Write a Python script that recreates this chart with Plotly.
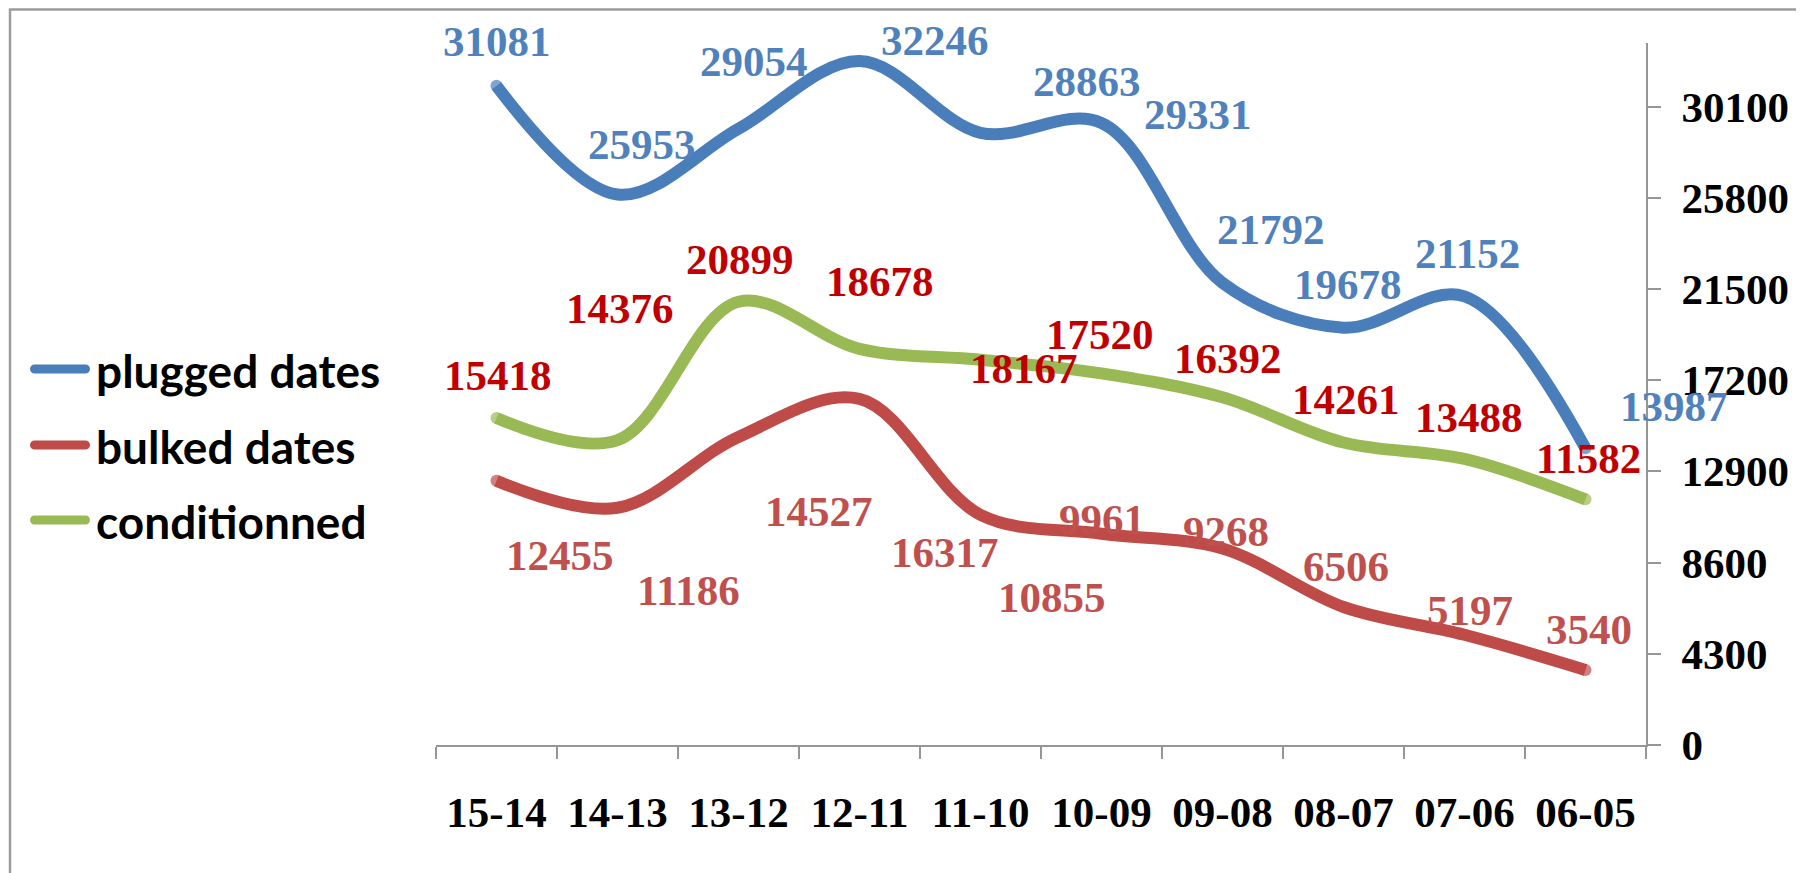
import plotly.graph_objects as go

# ---------------- data ----------------
categories = ["15-14", "14-13", "13-12", "12-11", "11-10",
              "10-09", "09-08", "08-07", "07-06", "06-05"]
plugged = [31081, 25953, 29054, 32246, 28863, 29331, 21792, 19678, 21152, 13987]
bulked = [12455, 11186, 14527, 16317, 10855, 9961, 9268, 6506, 5197, 3540]
conditionned = [15418, 14376, 20899, 18678, 18167, 17520, 16392, 14261, 13488, 11582]
y_ticks = [0, 4300, 8600, 12900, 17200, 21500, 25800, 30100]
series_names = ["plugged dates", "bulked dates", "conditionned"]

# ---------------- label placement (pixel offsets from each point: right, up) ----------------
plugged_lbl = [(0, 44), (24, 50), (15, 67), (75, 21), (106, 51), (96, 8), (48, 53), (4, 43), (3, 43), (88, 42)]
cond_lbl = [(1, 43), (2, 132), (1, 42), (20, 67), (43, -9), (-2, 39), (5, 39), (2, 43), (4, 41), (3, 41)]
bulk_lbl = [(63, -75), (71, -83), (80, -75), (85, -154), (71, -83), (0, 14), (3, 17), (2, 41), (5, 24), (3, 40)]

# ---------------- styles / layout (screen pixels) ----------------
BODY = 8                      # default page margin around the figure div
SCR_W, SCR_H = 1804, 873
PLOT_L, PLOT_R, PLOT_T, PLOT_B = 436, 1646, 43, 745
W, H = SCR_W - BODY, SCR_H - BODY
ML, MT = PLOT_L - BODY, PLOT_T - BODY
MR, MB = SCR_W - PLOT_R, SCR_H - PLOT_B
PW, PH = PLOT_R - PLOT_L, PLOT_B - PLOT_T
LINE_W = 12
line_colors = ["#4A7EBB", "#BE4B48", "#98B954"]
label_colors = ["#4F81BD", "#C0504D", "#C00000"]
serif = "Liberation Serif"
LBL_SIZE = 43
AX_COLOR = "#969696"


def px_to_paper(x, y):
    """screen pixel -> paper coordinates"""
    return (x - PLOT_L) / PW, (PLOT_B - y) / PH


fig = go.Figure()
series = [plugged, bulked, conditionned]
for name, vals, col in zip(series_names, series, line_colors):
    n = len(vals)
    fig.add_trace(go.Scatter(
        x=categories, y=vals, name=name, mode="lines+markers",
        line=dict(color=col, width=LINE_W, shape="spline", smoothing=1.0),
        marker=dict(color=col, size=[LINE_W if i in (0, n - 1) else 0 for i in range(n)],
                    line=dict(width=0)),
        showlegend=False, hoverinfo="skip",
    ))

annotations = []
for vals, offs, col in [(plugged, plugged_lbl, label_colors[0]),
                        (conditionned, cond_lbl, label_colors[2]),
                        (bulked, bulk_lbl, label_colors[1])]:
    for cat, v, (dx, dy) in zip(categories, vals, offs):
        annotations.append(dict(
            x=cat, y=v, xref="x", yref="y", text=str(v), showarrow=False,
            xshift=dx, yshift=dy, xanchor="center", yanchor="middle",
            font=dict(family=serif, size=LBL_SIZE, color=col, weight="bold"),
        ))

# custom legend
shapes = []
leg_rows = [369, 445, 520]
for name, col, yrow in zip(series_names, line_colors, leg_rows):
    ax, ay = px_to_paper(30, yrow)
    r = 4.5
    L = 60
    path = (f"M {r},{-r} L {L - r},{-r} C {L - r + 2.5},{-r} {L},{-2.5} {L},0 "
            f"C {L},2.5 {L - r + 2.5},{r} {L - r},{r} L {r},{r} "
            f"C 2,{r} 0,2.5 0,0 C 0,-2.5 2,{-r} {r},{-r} Z")
    shapes.append(dict(type="path", xref="paper", yref="paper", xsizemode="pixel",
                       ysizemode="pixel", xanchor=ax, yanchor=ay, path=path,
                       fillcolor=col, line=dict(width=0)))
    tx, ty = px_to_paper(94, yrow + 1)
    annotations.append(dict(
        x=tx, y=ty, xref="paper", yref="paper", text=name, showarrow=False,
        xanchor="left", yanchor="middle",
        font=dict(family="Lato", size=46, color="black", weight="bold"),
    ))

# chart area border (top & left visible)
bx0, by1 = px_to_paper(BODY + 2, 9.5)
bx1, by0 = px_to_paper(1830, 900)
shapes.append(dict(type="rect", xref="paper", yref="paper", x0=bx0, x1=bx1, y0=by0, y1=by1,
                   line=dict(color="#9C9C9C", width=2.5), fillcolor="rgba(0,0,0,0)", layer="below"))

fig.update_layout(
    width=W, height=H, autosize=False,
    margin=dict(l=ML, r=MR, t=MT, b=MB, pad=0),
    paper_bgcolor="white", plot_bgcolor="white",
    showlegend=False,
    annotations=annotations, shapes=shapes,
    xaxis=dict(
        type="category", categoryorder="array", categoryarray=categories,
        range=[-0.5, len(categories) - 0.5],
        showgrid=False, zeroline=False, showline=True, linecolor=AX_COLOR, linewidth=2,
        ticks="outside", ticklen=12, tickwidth=2, tickcolor=AX_COLOR, tickson="boundaries",
        tickfont=dict(family=serif, size=LBL_SIZE, color="black", weight="bold"),
        ticklabelstandoff=28, automargin=False, fixedrange=True,
    ),
    yaxis=dict(
        side="right", range=[0, 33100], tickvals=y_ticks, ticktext=[str(t) for t in y_ticks],
        showgrid=False, zeroline=False, showline=True, linecolor=AX_COLOR, linewidth=2,
        ticks="outside", ticklen=13, tickwidth=2, tickcolor=AX_COLOR,
        tickfont=dict(family=serif, size=LBL_SIZE, color="black", weight="bold"),
        ticklabelstandoff=12, automargin=False, fixedrange=True,
    ),
)

fig.write_html("out.html")
